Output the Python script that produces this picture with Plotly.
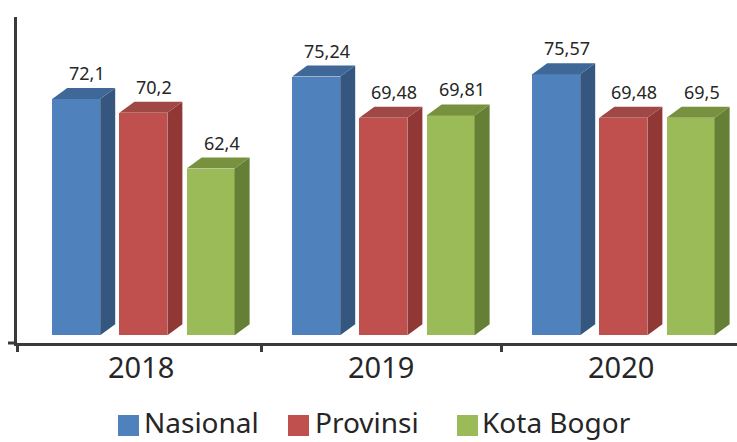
import plotly.graph_objects as go

# ---- data ----
years = ["2018", "2019", "2020"]
series_names = ["Nasional", "Provinsi", "Kota Bogor"]
nasional = [72.1, 75.24, 75.57]
provinsi = [70.2, 69.48, 69.48]
kota_bogor = [62.4, 69.81, 69.5]
value_labels = {
    "Nasional": ["72,1", "75,24", "75,57"],
    "Provinsi": ["70,2", "69,48", "69,48"],
    "Kota Bogor": ["62,4", "69,81", "69,5"],
}

# ---- style ----
W, H = 737, 442
ML, MR, MT, MB = 17, 0, 17, 99
PW, PH = W - ML - MR, H - MT - MB
UNIT_PX = 240.0
X0_PX = 141.0  # pixel of category 0
X_RANGE = [(ML - X0_PX) / UNIT_PX, (ML - X0_PX) / UNIT_PX + PW / UNIT_PX]
Y_RANGE = [38.07, 38.07 + PH / 7.169]
FLOOR = 39.15
BAR_W = 0.2
OFFSETS = [-0.27, 0.01, 0.29]
DEPTH_PX_X, DEPTH_PX_Y = 15, 11
dx = DEPTH_PX_X * (X_RANGE[1] - X_RANGE[0]) / PW
dy = DEPTH_PX_Y * (Y_RANGE[1] - Y_RANGE[0]) / PH

colors = {
    "Nasional": dict(front="#4F81BD", side="#34567F", top="#3F6898"),
    "Provinsi": dict(front="#C0504D", side="#913836", top="#A04845"),
    "Kota Bogor": dict(front="#9BBB59", side="#667F36", top="#77913F"),
}
FONT = "Noto Sans"
TXT = "#262626"
AXC = "#3a3a3a"


def pxx(p):
    return (p - ML) / PW


def pxy(p):
    return (H - MB - p) / PH


fig = go.Figure()
shapes = []
annotations = []
all_values = [nasional, provinsi, kota_bogor]

for si, (name, vals) in enumerate(zip(series_names, all_values)):
    xs = [i + OFFSETS[si] for i in range(len(years))]
    c = colors[name]
    fig.add_trace(go.Bar(
        x=xs, y=[v - FLOOR for v in vals], base=FLOOR, width=BAR_W,
        marker=dict(color=c["front"], line=dict(width=0)),
        name=name, showlegend=False, hoverinfo="skip",
    ))
    for x, v, lab in zip(xs, vals, value_labels[name]):
        xl, xr = x - BAR_W / 2, x + BAR_W / 2
        # side face
        shapes.append(dict(
            type="path", xref="x", yref="y", layer="above",
            path=f"M{xr},{FLOOR} L{xr+dx},{FLOOR+dy} L{xr+dx},{v+dy} L{xr},{v} Z",
            fillcolor=c["side"], line=dict(width=0),
        ))
        # top face
        shapes.append(dict(
            type="path", xref="x", yref="y", layer="above",
            path=f"M{xl},{v} L{xl+dx},{v+dy} L{xr+dx},{v+dy} L{xr},{v} Z",
            fillcolor=c["top"], line=dict(width=0),
        ))
        annotations.append(dict(
            x=x, y=v, xref="x", yref="y", text=lab, showarrow=False,
            xshift=11, yshift=26, yanchor="middle",
            font=dict(family=FONT, size=18, color=TXT),
        ))

# year labels
for i, yr in enumerate(years):
    annotations.append(dict(
        x=i, y=pxy(366.5), xref="x", yref="paper", text=yr, showarrow=False,
        xanchor="center", yanchor="middle",
        font=dict(family=FONT, size=29, color=TXT),
    ))

# x axis left extension
shapes.append(dict(type="line", xref="paper", yref="paper",
                   x0=pxx(8), x1=0, y0=0, y1=0,
                   line=dict(color=AXC, width=3)))

# legend (big squares + text)
legend_items = [(118, 143), (288, 314), (457, 481)]
for (sq_x, tx_x), name in zip(legend_items, series_names):
    shapes.append(dict(type="rect", xref="paper", yref="paper",
                       x0=pxx(sq_x), x1=pxx(sq_x + 21), y0=pxy(436), y1=pxy(415),
                       fillcolor=colors[name]["front"], line=dict(width=0)))
    annotations.append(dict(
        x=pxx(tx_x), y=pxy(442), xref="paper", yref="paper", text=name,
        showarrow=False, xanchor="left", yanchor="bottom", borderpad=0,
        font=dict(family=FONT, size=28, color=TXT),
    ))

fig.update_layout(
    width=W, height=H,
    margin=dict(l=ML, r=MR, t=MT, b=MB),
    plot_bgcolor="white", paper_bgcolor="white",
    showlegend=False,
    shapes=shapes, annotations=annotations,
    bargap=0,
    xaxis=dict(
        range=X_RANGE, showgrid=False, zeroline=False,
        showline=True, linecolor=AXC, linewidth=3,
        showticklabels=False, ticks="",
        minor=dict(tickmode="array", tickvals=[X_RANGE[0], 0.5, 1.5],
                   ticks="outside", ticklen=6, tickwidth=3, tickcolor=AXC,
                   showgrid=False),
    ),
    yaxis=dict(
        range=Y_RANGE, showgrid=False, zeroline=False,
        showline=True, linecolor=AXC, linewidth=3,
        showticklabels=False, ticks="",
    ),
)

fig.write_html(
    "out.html",
    config={"displayModeBar": False},
    post_script="document.body.style.margin='0';document.body.style.overflow='hidden';",
)
